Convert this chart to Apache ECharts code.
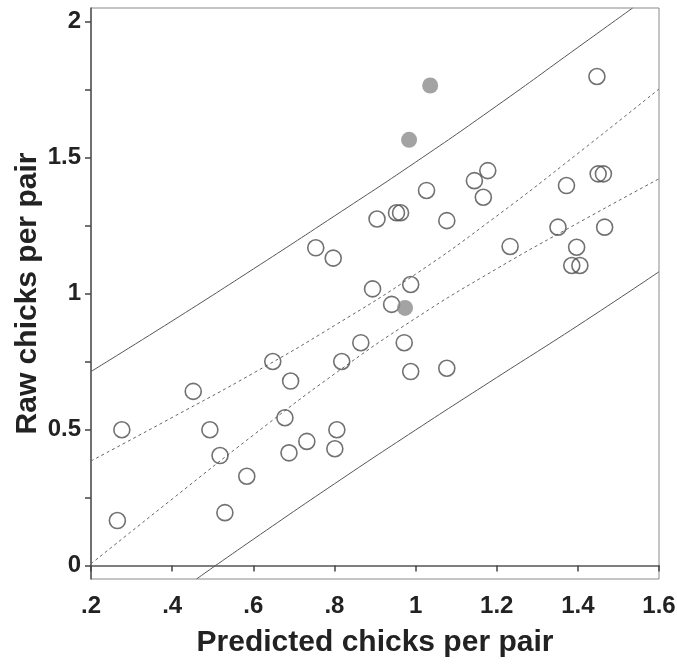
<!DOCTYPE html>
<html>
<head>
<meta charset="utf-8">
<script src="https://cdn.jsdelivr.net/npm/echarts@6/dist/echarts.min.js"></script>
<style>
  html, body { margin: 0; padding: 0; background: #fff; }
  #chart { width: 677px; height: 666px; }
</style>
</head>
<body>
<div id="chart"></div>
<script>
// open circles: [predicted, raw]
var openPoints = [
  [0.265, 0.165], [0.276, 0.499], [0.452, 0.640], [0.493, 0.499], [0.518, 0.404],
  [0.530, 0.194], [0.584, 0.328], [0.648, 0.750], [0.678, 0.543], [0.688, 0.414],
  [0.692, 0.678], [0.732, 0.456], [0.754, 1.168], [0.797, 1.130], [0.801, 0.429],
  [0.806, 0.499], [0.818, 0.750], [0.865, 0.819], [0.894, 1.017], [0.905, 1.274],
  [0.941, 0.960], [0.953, 1.297], [0.963, 1.297], [0.972, 0.819], [0.988, 1.033],
  [0.988, 0.713], [1.027, 1.379], [1.077, 1.268], [1.077, 0.725], [1.145, 1.415],
  [1.167, 1.354], [1.178, 1.452], [1.233, 1.173], [1.351, 1.244], [1.372, 1.397],
  [1.385, 1.103], [1.397, 1.170], [1.405, 1.103], [1.447, 1.798], [1.450, 1.440],
  [1.463, 1.440], [1.466, 1.244]
];
// grey filled circles
var filledPoints = [[1.036, 1.765], [0.984, 1.565], [0.974, 0.947]];

// prediction band (solid) and confidence band (dashed)
var predUpper = [[0.2, 0.713], [0.4, 0.899], [0.6, 1.090], [0.8, 1.285], [1.0, 1.483], [1.2, 1.690], [1.4, 1.905], [1.535, 2.05]];
var predLower = [[0.46, -0.05], [0.6, 0.096], [0.8, 0.300], [1.0, 0.498], [1.2, 0.691], [1.4, 0.882], [1.6, 1.080]];
var confUpper = [[0.2, 0.384], [0.4, 0.544], [0.6, 0.707], [0.8, 0.882], [1.0, 1.071], [1.2, 1.285], [1.4, 1.515], [1.6, 1.752]];
var confLower = [[0.2, 0.006], [0.4, 0.244], [0.6, 0.479], [0.8, 0.704], [1.0, 0.909], [1.2, 1.091], [1.4, 1.259], [1.6, 1.422]];

var xTicks = [0.2, 0.4, 0.6, 0.8, 1.0, 1.2, 1.4, 1.6];
var yTicks = [0, 0.25, 0.5, 0.75, 1, 1.25, 1.5, 1.75, 2];
var yLabels = [0, 0.5, 1, 1.5, 2];

var fontFam = '"Liberation Sans", Arial, sans-serif';

function bandLine(data, dashed) {
  return {
    type: 'line',
    data: data,
    smooth: true,
    showSymbol: false,
    silent: true,
    z: 1,
    lineStyle: {
      color: dashed ? '#666' : '#555',
      width: 1,
      type: dashed ? [3, 3] : 'solid'
    }
  };
}

var chart = echarts.init(document.getElementById('chart'));
chart.setOption({
  animation: false,
  backgroundColor: '#fff',
  grid: {
    left: 91, right: 18, top: 8, bottom: 87,
    outerBoundsMode: 'none',
    containLabel: false,
    show: true,
    borderColor: '#8a8a8a',
    borderWidth: 1
  },
  xAxis: {
    type: 'value',
    min: 0.2,
    max: 1.6,
    name: 'Predicted chicks per pair',
    nameLocation: 'middle',
    nameGap: 49,
    nameMoveOverlap: false,
    nameTextStyle: { fontFamily: fontFam, fontWeight: 'bold', fontSize: 30, color: '#222' },
    axisLine: { lineStyle: { color: '#555', width: 1.5 } },
    axisTick: { show: true, length: 6, customValues: xTicks, lineStyle: { color: '#444', width: 1.5 } },
    axisLabel: {
      customValues: xTicks,
      margin: 15,
      fontFamily: fontFam, fontWeight: 'bold', fontSize: 24, color: '#222',
      formatter: function (v) {
        var s = String(Math.round(v * 10) / 10);
        return s.indexOf('0.') === 0 ? s.slice(1) : s;
      }
    },
    splitLine: { show: false }
  },
  yAxis: {
    type: 'value',
    min: -0.05,
    max: 2.05,
    name: 'Raw chicks per pair',
    nameLocation: 'middle',
    nameGap: 48,
    nameMoveOverlap: false,
    nameTextStyle: { fontFamily: fontFam, fontWeight: 'bold', fontSize: 30, color: '#222' },
    axisLine: { show: true, lineStyle: { color: '#555', width: 1.5 } },
    axisTick: { show: true, length: 6, customValues: yTicks, lineStyle: { color: '#444', width: 1.5 } },
    axisLabel: {
      customValues: yLabels,
      margin: 10,
      fontFamily: fontFam, fontWeight: 'bold', fontSize: 24, color: '#222'
    },
    splitLine: { show: false }
  },
  series: [
    bandLine(predUpper, false),
    bandLine(predLower, false),
    bandLine(confUpper, true),
    bandLine(confLower, true),
    {
      type: 'scatter',
      data: openPoints,
      symbol: 'circle',
      symbolSize: 16,
      z: 3,
      itemStyle: { color: 'rgba(255,255,255,0)', borderColor: '#4d4d4d', borderWidth: 1.6 }
    },
    {
      type: 'scatter',
      data: filledPoints,
      symbol: 'circle',
      symbolSize: 16,
      z: 4,
      itemStyle: { color: '#8c8c8c', borderWidth: 0 }
    }
  ]
});
</script>
</body>
</html>
